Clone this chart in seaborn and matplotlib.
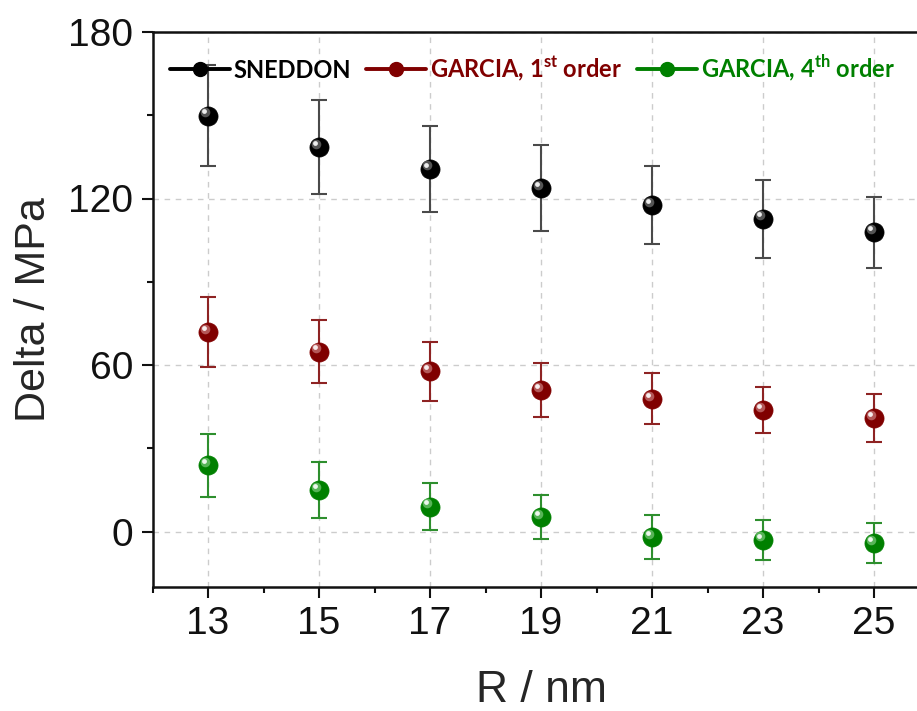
import matplotlib
matplotlib.use("Agg")
import matplotlib.pyplot as plt
import matplotlib.transforms as mtransforms
from matplotlib.lines import Line2D
from matplotlib.ticker import MultipleLocator, FixedLocator
import pandas as pd
import seaborn as sns

# ---- data ----
R = [13, 15, 17, 19, 21, 23, 25]
sneddon = [149.8, 138.5, 130.7, 123.7, 117.7, 112.7, 107.8]
sneddon_err = [18.2, 17.0, 15.5, 15.5, 14.1, 14.0, 12.7]
garcia1 = [71.8, 64.8, 57.7, 50.9, 47.8, 43.8, 40.9]
garcia1_err = [12.7, 11.3, 10.7, 9.8, 9.2, 8.4, 8.5]
garcia4 = [23.8, 15.0, 9.0, 5.2, -2.0, -3.0, -4.1]
garcia4_err = [11.4, 10.0, 8.6, 7.8, 7.9, 7.2, 7.2]

series_names = ["SNEDDON", r"GARCIA, 1$^{\mathbf{st}}$ order", r"GARCIA, 4$^{\mathbf{th}}$ order"]
colors = ["#000000", "#800000", "#008000"]
err_colors = ["#4a4a4a", "#8e2323", "#2e8f2e"]
hi_colors = ["#9a9a9a", "#e0a0a0", "#a0e0a0"]

sns.set_theme(style="ticks")
plt.rcParams["font.family"] = ["Liberation Sans", "DejaVu Sans"]
plt.rcParams["mathtext.fontset"] = "custom"
plt.rcParams["mathtext.bf"] = "Lato:bold"
plt.rcParams["mathtext.rm"] = "Lato"

fig = plt.figure(figsize=(9.17, 7.11), dpi=100)
W, H = 917, 711
ax = fig.add_axes([152.5 / W, 1 - 587 / H, 777 / W, 555 / H])

df = pd.DataFrame({
    "R": R * 3,
    "val": sneddon + garcia1 + garcia4,
    "err": sneddon_err + garcia1_err + garcia4_err,
    "series": sum([[n] * len(R) for n in series_names], []),
})

for name, c, ec, hc in zip(series_names, colors, err_colors, hi_colors):
    sub = df[df["series"] == name]
    ax.errorbar(sub["R"], sub["val"], yerr=sub["err"], fmt="none",
                ecolor=ec, elinewidth=1.5, capsize=5.5, capthick=1.5, zorder=3)
    sns.scatterplot(data=sub, x="R", y="val", ax=ax, color=c, s=190,
                    edgecolor=c, linewidth=0.5, zorder=4, legend=False)
    # sphere highlight
    off = mtransforms.ScaledTranslation(-2.4 / 72, 2.4 / 72, fig.dpi_scale_trans)
    ax.scatter(sub["R"], sub["val"], s=48, color=hc, alpha=0.55, linewidth=0,
               transform=ax.transData + off, zorder=5)
    off2 = mtransforms.ScaledTranslation(-2.9 / 72, 3.1 / 72, fig.dpi_scale_trans)
    ax.scatter(sub["R"], sub["val"], s=12, color="white", alpha=0.9, linewidth=0,
               transform=ax.transData + off2, zorder=6)

ax.set_xlim(12, 26)
ax.set_ylim(-20, 180)
ax.xaxis.set_major_locator(FixedLocator(R))
ax.xaxis.set_minor_locator(FixedLocator([12, 14, 16, 18, 20, 22, 24, 26]))
ax.yaxis.set_major_locator(MultipleLocator(60))
ax.yaxis.set_minor_locator(MultipleLocator(30))

ax.grid(True, which="major", linestyle=(0, (4, 4)), color="#cccccc", linewidth=1.0)
ax.set_axisbelow(True)

for s in ["left", "bottom", "top"]:
    ax.spines[s].set_linewidth(1.8)
    ax.spines[s].set_color("#111111")
ax.spines["right"].set_visible(False)

ax.tick_params(axis="both", which="major", direction="out", length=8, width=1.5,
               labelsize=28, colors="#111111", pad=6)
ax.tick_params(axis="both", which="minor", direction="out", length=4, width=1.5,
               colors="#111111")
ax.tick_params(top=False, right=False, which="both")

ax.set_xlabel("R / nm", fontsize=32, labelpad=20)
ax.set_ylabel("Delta / MPa", fontsize=31, labelpad=10)

handles = [Line2D([0], [0], color=c, marker="o", markersize=10, linewidth=2.8)
           for c in colors]
leg = ax.legend(handles, series_names, loc="upper left", bbox_to_anchor=(17 / 777, 1 - 21 / 555),
                ncol=3, frameon=False, handlelength=2.55, handletextpad=0.15,
                columnspacing=0.65, borderpad=0, borderaxespad=0,
                prop={"family": "Lato", "weight": "bold", "size": 17})
for t, c in zip(leg.get_texts(), colors):
    t.set_color(c)

fig.savefig("out.png", dpi=100)
